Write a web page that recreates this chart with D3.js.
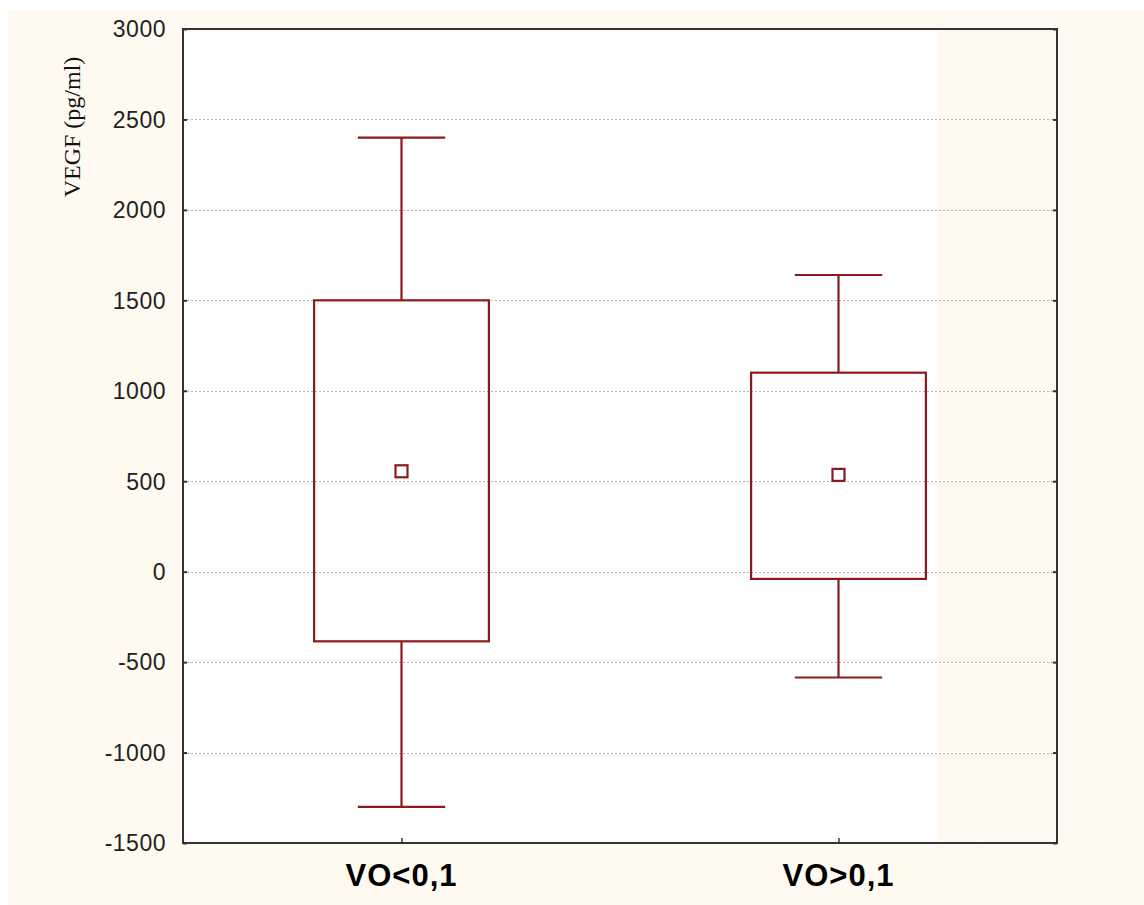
<!DOCTYPE html>
<html>
<head>
<meta charset="utf-8">
<script src="https://cdn.jsdelivr.net/npm/d3@7"></script>
<style>
    body { margin: 0; background: #fff; }
    svg { display: block; }
</style>
</head>
<body>
<div id="chart"></div>
<script>
// values (mean, box, whiskers)
const groups = ['VO<0,1', 'VO>0,1'];
const means = [555, 535];
const boxLow = [-385, -40];
const boxHigh = [1500, 1100];
const whiskerLow = [-1300, -585];
const whiskerHigh = [2400, 1640];
const yTicks = [-1500, -1000, -500, 0, 500, 1000, 1500, 2000, 2500, 3000];
const yLabel = 'VEGF (pg/ml)';

const width = 1144, height = 905;
const margin = { top: 29, right: 87, bottom: 62, left: 183 };
const plotW = width - margin.left - margin.right;
const plotH = height - margin.top - margin.bottom;
const red = '#8b1a1a';
const cream = '#fefaf0';

const svg = d3.select('#chart').append('svg')
    .attr('width', width)
    .attr('height', height);

// outer background
svg.append('rect')
    .attr('x', 8).attr('y', 10)
    .attr('width', width - 8).attr('height', height - 10)
    .attr('fill', cream);

const g = svg.append('g')
    .attr('transform', `translate(${margin.left},${margin.top})`);

const x = d3.scalePoint()
    .domain(groups)
    .range([0, plotW])
    .padding(0.5);

const y = d3.scaleLinear()
    .domain([-1500, 3000])
    .range([plotH, 0]);

// plot area: white, with the cream strip on the right as in the original
g.append('rect')
    .attr('width', plotW).attr('height', plotH)
    .attr('fill', cream);
g.append('rect')
    .attr('width', plotW - 120).attr('height', plotH)
    .attr('fill', '#fff');
g.append('line')
    .attr('x1', plotW - 76).attr('x2', plotW - 76)
    .attr('y1', plotH - 103).attr('y2', plotH)
    .attr('stroke', '#fff').attr('stroke-width', 1);

// grid lines
g.append('g')
    .selectAll('line')
    .data(yTicks.filter(d => d > -1500 && d < 3000))
    .join('line')
    .attr('x1', 0).attr('x2', plotW)
    .attr('y1', d => Math.round(y(d)) + 0.5)
    .attr('y2', d => Math.round(y(d)) + 0.5)
    .attr('stroke', '#b4b4b4')
    .attr('stroke-width', 1)
    .attr('stroke-dasharray', '2,2');

// y axis (left) with inward ticks
const yAxis = g.append('g')
    .call(d3.axisRight(y).tickValues(yTicks).tickSize(4).tickFormat(''));
yAxis.select('.domain').remove();
yAxis.selectAll('line').attr('stroke', '#333').attr('stroke-width', 2);

g.append('g')
    .selectAll('text')
    .data(yTicks)
    .join('text')
    .attr('x', -17)
    .attr('y', d => y(d))
    .attr('dy', '0.36em')
    .attr('text-anchor', 'end')
    .attr('font-family', 'Liberation Sans, Arial, sans-serif')
    .attr('font-size', 23)
    .attr('letter-spacing', 0.5)
    .attr('fill', '#222')
    .text(d => d);

// right axis ticks
const yAxisR = g.append('g')
    .attr('transform', `translate(${plotW},0)`)
    .call(d3.axisLeft(y).tickValues(yTicks).tickSize(4).tickFormat(''));
yAxisR.select('.domain').remove();
yAxisR.selectAll('line').attr('stroke', '#333').attr('stroke-width', 2);

// x axis ticks (pointing up)
const xAxis = g.append('g')
    .attr('transform', `translate(0,${plotH})`)
    .call(d3.axisTop(x).tickSize(5).tickFormat(''));
xAxis.select('.domain').remove();
xAxis.selectAll('line').attr('stroke', '#333').attr('stroke-width', 1.5);

g.append('g')
    .selectAll('text')
    .data(groups)
    .join('text')
    .attr('x', d => x(d))
    .attr('y', plotH + 43)
    .attr('text-anchor', 'middle')
    .attr('font-family', 'Liberation Sans, Arial, sans-serif')
    .attr('font-weight', 'bold')
    .attr('font-size', 31)
    .attr('letter-spacing', 1)
    .attr('fill', '#000')
    .text(d => d);

// frame
g.append('rect')
    .attr('width', plotW).attr('height', plotH)
    .attr('fill', 'none')
    .attr('stroke', '#333')
    .attr('stroke-width', 2);

// boxes and whiskers
const step = x.step();
const boxW = step * 0.4;
const capW = step * 0.2;

const box = g.append('g')
    .selectAll('g')
    .data(groups)
    .join('g');

box.append('line')
    .attr('x1', d => x(d)).attr('x2', d => x(d))
    .attr('y1', (d, i) => y(whiskerHigh[i]))
    .attr('y2', (d, i) => y(boxHigh[i]))
    .attr('stroke', red).attr('stroke-width', 2.2);

box.append('line')
    .attr('x1', d => x(d)).attr('x2', d => x(d))
    .attr('y1', (d, i) => y(boxLow[i]))
    .attr('y2', (d, i) => y(whiskerLow[i]))
    .attr('stroke', red).attr('stroke-width', 2.2);

box.append('line')
    .attr('x1', d => x(d) - capW / 2).attr('x2', d => x(d) + capW / 2)
    .attr('y1', (d, i) => y(whiskerHigh[i]))
    .attr('y2', (d, i) => y(whiskerHigh[i]))
    .attr('stroke', red).attr('stroke-width', 2.2);

box.append('line')
    .attr('x1', d => x(d) - capW / 2).attr('x2', d => x(d) + capW / 2)
    .attr('y1', (d, i) => y(whiskerLow[i]))
    .attr('y2', (d, i) => y(whiskerLow[i]))
    .attr('stroke', red).attr('stroke-width', 2.2);

box.append('rect')
    .attr('x', d => x(d) - boxW / 2)
    .attr('y', (d, i) => y(boxHigh[i]))
    .attr('width', boxW)
    .attr('height', (d, i) => y(boxLow[i]) - y(boxHigh[i]))
    .attr('fill', 'none')
    .attr('stroke', red).attr('stroke-width', 2.2);

box.append('rect')
    .attr('x', d => x(d) - 6)
    .attr('y', (d, i) => y(means[i]) - 6)
    .attr('width', 12).attr('height', 12)
    .attr('fill', '#fff')
    .attr('stroke', red).attr('stroke-width', 2.2);

// y axis title, serif like the original
svg.append('text')
    .attr('transform', 'translate(80,127) rotate(-90)')
    .attr('text-anchor', 'middle')
    .attr('font-family', 'Liberation Serif, Times New Roman, serif')
    .attr('font-size', 24)
    .attr('fill', '#111')
    .text(yLabel);
</script>
</body>
</html>
